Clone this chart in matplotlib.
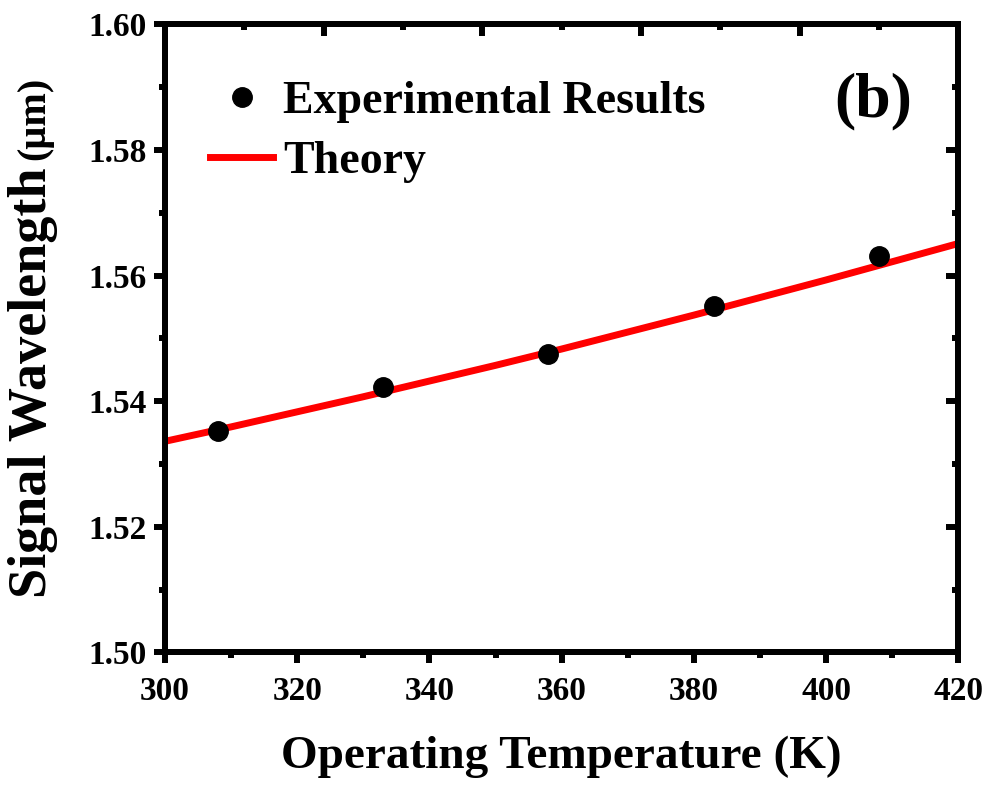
import matplotlib
matplotlib.use("Agg")
import matplotlib.pyplot as plt
from matplotlib.ticker import MultipleLocator, NullFormatter

plt.rcParams['font.family'] = ['Liberation Serif', 'DejaVu Serif']
plt.rcParams['font.weight'] = 'bold'

# measured points
exp_temp = [308, 333, 358, 383, 408]
exp_wl = [1.5352, 1.5422, 1.5475, 1.5551, 1.5631]

# theory curve, every 10 K
theory_temp = [300, 310, 320, 330, 340, 350, 360, 370, 380, 390, 400, 410, 420]
theory_wl = [1.5336, 1.5359, 1.5383, 1.5407, 1.5432, 1.5457, 1.5483, 1.5510,
             1.5537, 1.5565, 1.5593, 1.5622, 1.5651]

fig = plt.figure(figsize=(9.88, 7.85), dpi=100)
ax = fig.add_axes([0.167, 0.169, 0.803, 0.800])
lw_ax = 4.3

# twin axes only used for the inward ticks on top and right (Origin style)
top = ax.twiny()
top.set_xlim(0, 10)
top.xaxis.set_major_locator(MultipleLocator(2))
top.xaxis.set_minor_locator(MultipleLocator(1))
top.xaxis.set_major_formatter(NullFormatter())
top.tick_params(which='major', direction='in', length=8.5, width=lw_ax)
top.tick_params(which='minor', direction='in', length=4.5, width=lw_ax)
top.yaxis.set_visible(False)

right = ax.twinx()
right.set_ylim(1.50, 1.60)
right.yaxis.set_major_locator(MultipleLocator(0.02))
right.yaxis.set_minor_locator(MultipleLocator(0.01))
right.yaxis.set_major_formatter(NullFormatter())
right.tick_params(which='major', direction='in', length=8.5, width=lw_ax)
right.tick_params(which='minor', direction='in', length=4.5, width=lw_ax)
right.xaxis.set_visible(False)

for a in (ax, top, right):
    for s in a.spines.values():
        s.set_linewidth(lw_ax)

ax.plot(theory_temp, theory_wl, color='red', lw=5, label='Theory', zorder=2)
ax.plot(exp_temp, exp_wl, 'o', color='black', ms=14, label='Experimental Results',
        zorder=3)

ax.set_xlim(300, 420)
ax.set_ylim(1.50, 1.60)
ax.xaxis.set_major_locator(MultipleLocator(20))
ax.xaxis.set_minor_locator(MultipleLocator(10))
ax.yaxis.set_major_locator(MultipleLocator(0.02))
ax.yaxis.set_minor_locator(MultipleLocator(0.01))
ax.yaxis.set_major_formatter(plt.FormatStrFormatter('%.2f'))

ax.tick_params(which='major', direction='out', length=8, width=lw_ax,
               labelsize=24)
ax.tick_params(axis='x', which='major', pad=9)
ax.tick_params(axis='y', which='major', pad=5)
ax.tick_params(which='minor', direction='out', length=4.5, width=lw_ax)

ax.set_xlabel('Operating Temperature (K)', fontsize=34, fontweight='bold')
ax.xaxis.set_label_coords(0.5, -0.132)

fig.text(0.033, 0.512, 'Signal Wavelength', rotation=90, fontsize=39,
         fontweight='bold', ha='center', va='center')
fig.text(0.035, 0.849, '(μm)', rotation=90, fontsize=29, fontweight='bold',
         ha='center', va='center')

handles, labels = ax.get_legend_handles_labels()
leg = right.legend(handles[::-1], labels[::-1], loc='upper left',
                   bbox_to_anchor=(0.057, 0.910), frameon=False, fontsize=33,
                   handlelength=1.37, handletextpad=0.22, labelspacing=0.4,
                   borderpad=0, borderaxespad=0)

right.text(0.942, 0.877, '(b)', transform=right.transAxes, fontsize=46,
           fontweight='bold', ha='right', va='center')

fig.savefig('out.png', dpi=100)
